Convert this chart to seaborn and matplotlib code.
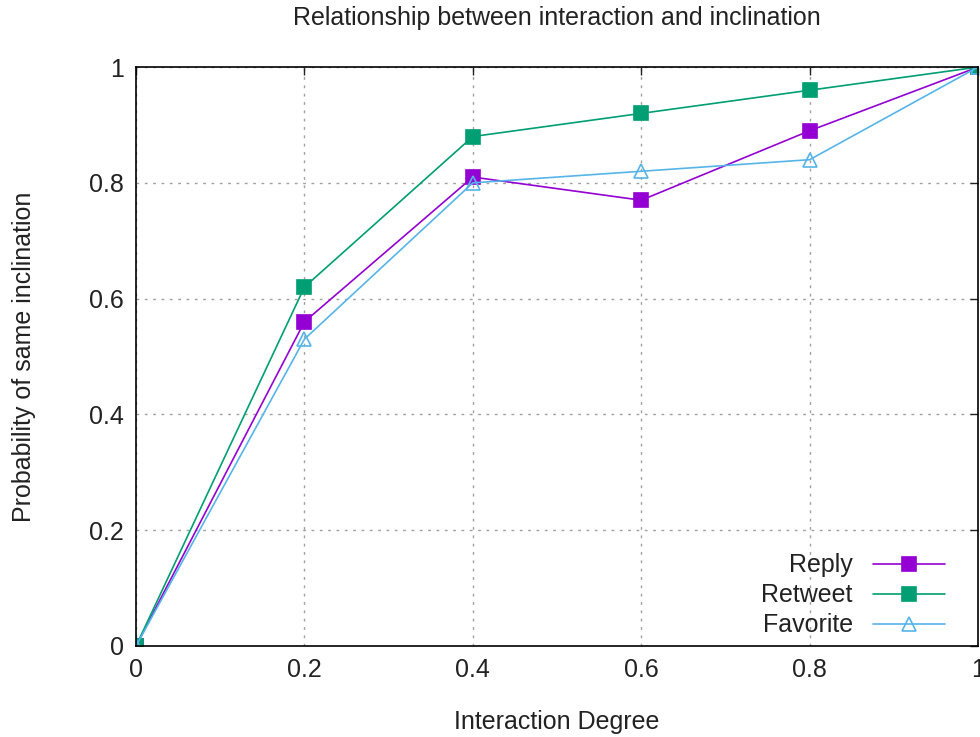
import pandas as pd
import matplotlib
matplotlib.use("Agg")
import matplotlib.pyplot as plt
import seaborn as sns
from matplotlib.ticker import FormatStrFormatter

# valores
grau = [0, 0.2, 0.4, 0.6, 0.8, 1.0]
reply = [0, 0.56, 0.81, 0.77, 0.89, 1.0]
retweet = [0, 0.62, 0.88, 0.92, 0.96, 1.0]
favorite = [0, 0.53, 0.80, 0.82, 0.84, 1.0]

series = ['Reply', 'Retweet', 'Favorite']
cores = {'Reply': '#9400D3', 'Retweet': '#009E73', 'Favorite': '#56B4E9'}
marcadores = {'Reply': 's', 'Retweet': 's', 'Favorite': '^'}

df = pd.DataFrame({
    'grau': grau * 3,
    'prob': reply + retweet + favorite,
    'tipo': [s for s in series for _ in grau],
})

sns.set_style("white")
plt.rcParams['font.family'] = ['Liberation Sans', 'DejaVu Sans']
plt.rcParams['text.color'] = '#222222'
plt.rcParams['xtick.color'] = '#222222'
plt.rcParams['ytick.color'] = '#222222'
plt.rcParams['axes.labelcolor'] = '#222222'

fig = plt.figure(figsize=(9.8, 7.37), dpi=100)
ax = fig.add_axes([0.1388, 0.1235, 0.8592, 0.7855])

sns.lineplot(data=df, x='grau', y='prob', hue='tipo', style='tipo',
             palette=cores, markers=marcadores, dashes=False,
             linewidth=1.2, markersize=10, ax=ax, legend=False)

# bordas dos marcadores na cor da serie, triangulo vazado
for line in ax.get_lines():
    c = line.get_color()
    line.set_markeredgecolor(c)
    line.set_markeredgewidth(1.2)
    if c == cores['Favorite']:
        line.set_markerfacecolor('none')

handles = []
for s in series:
    h, = ax.plot([], [], color=cores[s], linewidth=1.2,
                 marker=marcadores[s], markersize=10,
                 markerfacecolor='none' if s == 'Favorite' else cores[s],
                 markeredgecolor=cores[s], markeredgewidth=1.2)
    handles.append(h)
ax.legend(handles, series, loc='lower right', bbox_to_anchor=(0.961, 0.015),
          markerfirst=False, frameon=False, fontsize=18, handlelength=2.9,
          handletextpad=0.8, labelspacing=0.24, borderpad=0, borderaxespad=0)

ax.set_xlim(0, 1)
ax.set_ylim(0, 1)
ax.set_xticks(grau)
ax.set_yticks([0, 0.2, 0.4, 0.6, 0.8, 1.0])
ax.xaxis.set_major_formatter(FormatStrFormatter('%g'))
ax.yaxis.set_major_formatter(FormatStrFormatter('%g'))
ax.tick_params(direction='in', length=6, width=1, labelsize=18, top=True, right=True, pad=9)
ax.grid(True, color='#a0a0a0', linestyle=(0, (2, 4)), linewidth=1)
for sp in ax.spines.values():
    sp.set_color('black')
    sp.set_linewidth(1.2)

ax.set_title('Relationship between interaction and inclination', fontsize=18, pad=30)
ax.set_xlabel('Interaction Degree', fontsize=18, labelpad=20)
ax.set_ylabel('Probability of same inclination', fontsize=18, labelpad=38)

fig.savefig('out.png', dpi=100)
